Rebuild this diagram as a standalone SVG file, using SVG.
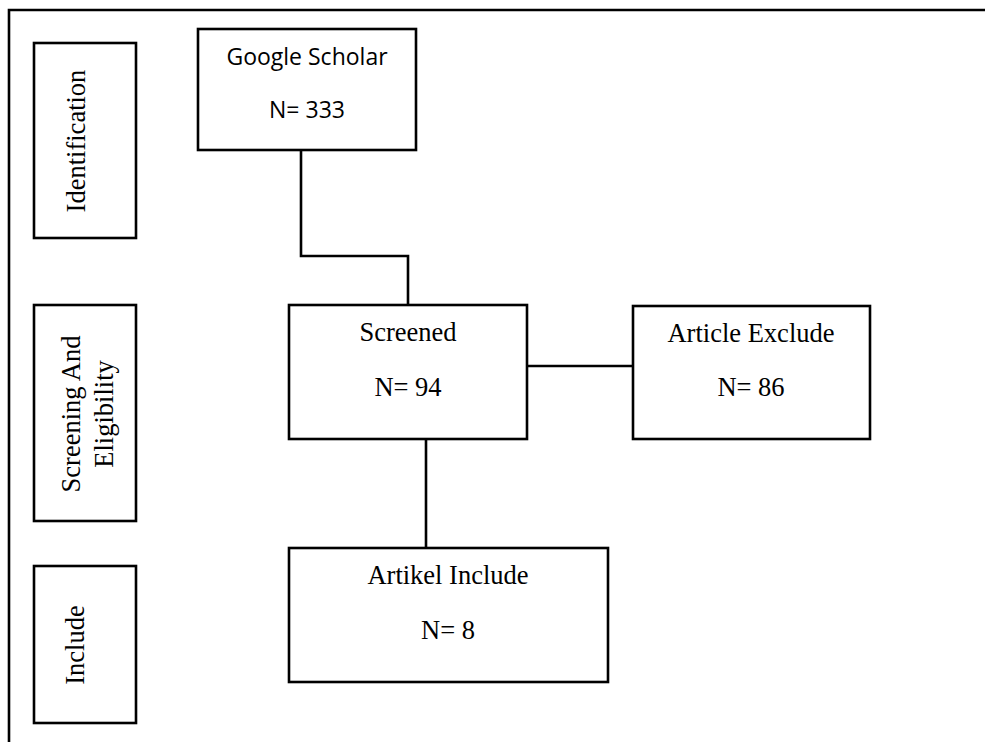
<svg xmlns="http://www.w3.org/2000/svg" width="985" height="742" viewBox="0 0 985 742">
<style>
.box{fill:#fff;stroke:#000;stroke-width:2.6}
.ln{fill:none;stroke:#000;stroke-width:2.6}
.tm{font-family:"Liberation Serif","Times New Roman",serif;font-size:26.5px;fill:#000;text-anchor:middle}
.sn{font-family:"Open Sans","Noto Sans",sans-serif;font-size:23px;fill:#000;text-anchor:middle}
</style>
<rect width="985" height="742" fill="#fff"/>
<path class="ln" d="M9,742 V10 H985"/>
<g id="stage-identification">
<rect class="box" x="34" y="43" width="102" height="195"/>
<text class="tm" transform="translate(85,141) rotate(-90)">Identification</text>
</g>
<g id="stage-screening">
<rect class="box" x="34" y="305" width="102" height="216"/>
<text class="tm" transform="translate(80,414) rotate(-90)">Screening And</text>
<text class="tm" transform="translate(113,414) rotate(-90)">Eligibility</text>
</g>
<g id="stage-include">
<rect class="box" x="34" y="566" width="102" height="157"/>
<text class="tm" transform="translate(84,645) rotate(-90)">Include</text>
</g>
<g id="connectors">
<path class="ln" d="M301,150 V256 H408 V305"/>
<path class="ln" d="M527,366 H633"/>
<path class="ln" d="M426,439 V548"/>
</g>
<g id="google-scholar">
<rect class="box" x="198" y="29" width="218" height="121"/>
<text class="sn" x="307" y="65">Google Scholar</text>
<text class="sn" x="307" y="118">N= 333</text>
</g>
<g id="screened">
<rect class="box" x="289" y="305" width="238" height="134"/>
<text class="tm" x="408" y="341">Screened</text>
<text class="tm" x="408" y="396">N= 94</text>
</g>
<g id="article-exclude">
<rect class="box" x="633" y="306" width="237" height="133"/>
<text class="tm" x="751" y="342">Article Exclude</text>
<text class="tm" x="751" y="396">N= 86</text>
</g>
<g id="artikel-include">
<rect class="box" x="289" y="548" width="319" height="134"/>
<text class="tm" x="448" y="584">Artikel Include</text>
<text class="tm" x="448" y="639">N= 8</text>
</g>
</svg>
